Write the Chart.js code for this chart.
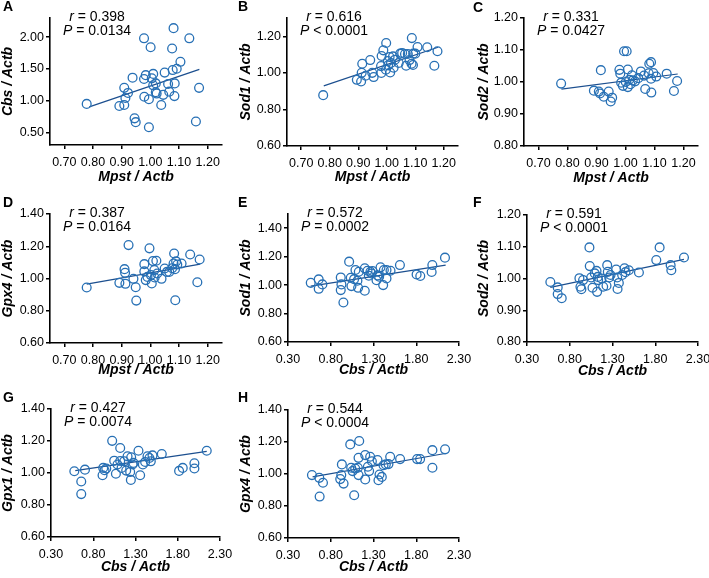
<!DOCTYPE html>
<html>
<head>
<meta charset="utf-8">
<script src="https://cdn.jsdelivr.net/npm/chart.js@4/dist/chart.umd.min.js"></script>
<style>
  html, body { margin: 0; padding: 0; background: #fff; }
  #wrap { position: relative; width: 709px; height: 578px; overflow: hidden; }
  #wrap canvas { position: absolute; }
</style>
</head>
<body>
<div id="wrap"></div>
<script>
// tick labels
var mpstTicks = [0.70, 0.80, 0.90, 1.00, 1.10, 1.20];
var cbsTicks = [0.30, 0.80, 1.30, 1.80, 2.30];
var cbsYTicks = [0.50, 1.00, 1.50, 2.00];
var wideYTicks = [0.60, 0.80, 1.00, 1.20, 1.40];
var sod1YTicks = [0.60, 0.80, 1.00, 1.20];
var sod2YTicks = [0.80, 0.90, 1.00, 1.10, 1.20];

// A: Cbs vs Mpst
var aX = [0.778,0.892,0.909,0.909,0.913,0.922,0.938,0.945,0.949,0.978,0.978,0.984,0.979,0.995,0.995,1.001,1.005,1.010,1.010,1.019,1.019,1.022,1.038,1.045,1.050,1.062,1.066,1.076,1.081,1.078,1.085,1.084,1.092,1.105,1.136,1.159,1.170];
var aY = [0.947,0.915,0.930,1.200,1.040,1.120,1.360,0.720,0.660,1.980,1.340,1.400,1.060,0.580,1.020,1.840,1.350,1.420,1.240,1.270,1.130,1.110,0.930,1.090,1.440,1.260,1.140,1.820,2.140,1.480,1.270,1.070,1.500,1.610,1.980,0.670,1.200];
var aFitX = [0.787, 1.171];
var aFitY = [0.900, 1.490];

// B: Sod1 vs Mpst
var bX = [0.777,0.895,0.910,0.912,0.914,0.926,0.942,0.949,0.954,0.981,0.980,0.982,0.988,0.998,0.997,1.004,1.005,1.010,1.012,1.015,1.022,1.024,1.029,1.042,1.047,1.054,1.064,1.068,1.074,1.080,1.087,1.088,1.092,1.093,1.100,1.108,1.142,1.167,1.178];
var bY = [0.878,0.962,0.953,1.000,1.050,0.984,1.070,1.000,0.977,0.999,1.037,1.092,1.123,1.163,1.017,1.065,1.041,1.087,1.002,1.054,1.090,1.028,1.072,1.054,1.105,1.109,1.103,1.039,1.103,1.070,1.050,1.190,1.043,1.105,1.105,1.141,1.140,1.039,1.118];
var bFitX = [0.779, 1.180];
var bFitY = [0.929, 1.140];

// C: Sod2 vs Mpst
var cX = [0.778,0.891,0.908,0.915,0.912,0.925,0.942,0.949,0.954,0.979,0.982,0.985,0.991,0.995,1.004,1.001,1.008,1.008,1.013,1.017,1.022,1.025,1.033,1.044,1.053,1.064,1.068,1.080,1.082,1.088,1.088,1.089,1.096,1.106,1.142,1.167,1.178];
var cY = [0.995,0.973,0.970,1.037,0.964,0.954,0.970,0.939,0.951,1.038,1.026,0.998,0.988,1.096,1.096,1.000,1.039,0.984,1.007,0.993,1.021,1.005,1.002,1.012,1.033,1.020,0.978,1.027,1.057,1.062,1.010,0.967,1.028,1.017,1.026,0.972,1.003];
var cFitX = [0.779, 1.180];
var cFitY = [0.978, 1.025];

// D: Gpx4 vs Mpst
var dX = [0.778,0.892,0.910,0.912,0.913,0.924,0.941,0.949,0.951,0.979,0.979,0.984,0.990,0.997,1.002,1.005,1.009,1.014,1.015,1.021,1.024,1.039,1.050,1.058,1.066,1.076,1.081,1.083,1.086,1.087,1.090,1.094,1.109,1.139,1.164,1.172];
var dY = [0.944,0.973,1.058,1.035,0.967,1.207,0.998,0.946,0.863,1.089,1.044,0.990,1.010,1.187,1.021,0.969,1.108,1.052,1.006,1.110,1.031,0.998,1.062,1.041,1.041,1.064,1.093,1.155,1.058,0.865,1.106,1.087,1.093,1.149,0.977,1.118];
var dFitX = [0.778, 1.174];
var dFitY = [0.965, 1.089];

// E: Sod1 vs Cbs
var eX = [0.566,0.659,0.659,0.702,0.917,0.917,0.925,0.948,1.015,1.034,1.042,1.073,1.089,1.112,1.120,1.128,1.198,1.198,1.230,1.245,1.264,1.277,1.288,1.335,1.347,1.366,1.382,1.413,1.421,1.452,1.452,1.499,1.609,1.804,1.847,1.980,1.988,2.136];
var eY = [1.016,1.040,0.974,1.005,1.054,0.965,1.005,0.878,1.165,1.052,0.993,1.042,1.106,1.031,0.981,1.094,0.960,1.118,1.101,1.066,1.094,1.082,1.099,1.035,1.068,1.059,1.125,1.000,1.106,1.047,1.106,1.101,1.141,1.075,1.064,1.092,1.141,1.193];
var eFitX = [0.566, 2.144];
var eFitY = [0.993, 1.141];

// F: Sod2 vs Cbs
var fX = [0.573,0.659,0.659,0.706,0.913,0.925,0.936,0.956,1.030,1.034,1.050,1.066,1.093,1.113,1.120,1.128,1.132,1.171,1.191,1.230,1.238,1.245,1.261,1.277,1.343,1.355,1.359,1.374,1.413,1.441,1.452,1.491,1.609,1.812,1.851,1.980,1.988,2.136];
var fY = [0.989,0.972,0.951,0.938,1.001,0.974,0.966,0.995,1.098,1.039,1.003,0.971,1.016,1.024,0.958,1.005,0.995,1.000,0.974,0.977,1.042,1.021,1.003,1.011,1.028,1.003,0.967,0.986,1.011,1.032,1.020,1.026,1.019,1.058,1.098,1.042,1.026,1.066];
var fFitX = [0.573, 2.136];
var fFitY = [0.972, 1.060];

// G: Gpx1 vs Cbs
var gX = [0.576,0.658,0.658,0.702,0.910,0.918,0.934,0.954,1.024,1.048,1.068,1.087,1.119,1.119,1.135,1.166,1.190,1.206,1.237,1.245,1.249,1.265,1.276,1.335,1.355,1.387,1.414,1.442,1.465,1.481,1.501,1.611,1.816,1.859,1.997,1.997,2.143];
var gY = [1.011,0.947,0.868,1.021,0.986,1.032,1.017,1.028,1.201,1.077,0.995,1.053,1.156,1.075,1.032,1.073,1.015,1.104,1.007,0.957,1.098,1.053,1.063,1.139,0.986,1.053,1.069,1.104,1.094,1.073,1.110,1.119,1.013,1.032,1.061,1.028,1.139];
var gFitX = [0.587, 2.143];
var gFitY = [1.015, 1.135];

// H: Gpx4 vs Cbs
var hX = [0.580,0.666,0.670,0.709,0.911,0.923,0.930,0.950,1.028,1.039,1.055,1.074,1.086,1.117,1.125,1.133,1.125,1.203,1.203,1.234,1.249,1.261,1.281,1.347,1.358,1.370,1.397,1.417,1.444,1.475,1.495,1.611,1.810,1.845,1.989,1.989,2.137];
var hY = [0.993,0.976,0.859,0.945,0.968,0.993,1.060,0.940,1.185,1.039,1.018,0.867,1.034,1.039,1.101,1.206,0.993,0.966,1.118,1.045,1.018,1.108,1.080,1.087,0.961,0.997,0.982,1.055,1.060,1.062,1.108,1.093,1.093,1.093,1.149,1.039,1.154];
var hFitX = [0.588, 2.137];
var hFitY = [0.982, 1.128];

var FONT = "'Liberation Sans', Arial, sans-serif";
var DOT = '#2770b5';
var FIT = '#1c4f8f';

function pairs(xs, ys) {
  return xs.map(function (x, i) { return {x: x, y: ys[i]}; });
}

// panel text + axis setup
var panels = [
  {letter: 'A', xs: aX, ys: aY, fx: aFitX, fy: aFitY, xr: [0.65, 1.25], yr: [0.3, 2.3], xt: mpstTicks, yt: cbsYTicks,
   xTitle: 'Mpst / Actb', yTitle: 'Cbs / Actb', r: '0.398', p: '= 0.0134'},
  {letter: 'B', xs: bX, ys: bY, fx: bFitX, fy: bFitY, xr: [0.65, 1.25], yr: [0.6, 1.3], xt: mpstTicks, yt: sod1YTicks,
   xTitle: 'Mpst / Actb', yTitle: 'Sod1 / Actb', r: '0.616', p: '< 0.0001'},
  {letter: 'C', xs: cX, ys: cY, fx: cFitX, fy: cFitY, xr: [0.65, 1.25], yr: [0.8, 1.2], xt: mpstTicks, yt: sod2YTicks,
   xTitle: 'Mpst / Actb', yTitle: 'Sod2 / Actb', r: '0.331', p: '= 0.0427'},
  {letter: 'D', xs: dX, ys: dY, fx: dFitX, fy: dFitY, xr: [0.65, 1.25], yr: [0.6, 1.4], xt: mpstTicks, yt: wideYTicks,
   xTitle: 'Mpst / Actb', yTitle: 'Gpx4 / Actb', r: '0.387', p: '= 0.0164'},
  {letter: 'E', xs: eX, ys: eY, fx: eFitX, fy: eFitY, xr: [0.3, 2.3], yr: [0.6, 1.5], xt: cbsTicks, yt: wideYTicks,
   xTitle: 'Cbs / Actb', yTitle: 'Sod1 / Actb', r: '0.572', p: '= 0.0002'},
  {letter: 'F', xs: fX, ys: fY, fx: fFitX, fy: fFitY, xr: [0.3, 2.3], yr: [0.8, 1.2], xt: cbsTicks, yt: sod2YTicks,
   xTitle: 'Cbs / Actb', yTitle: 'Sod2 / Actb', r: '0.591', p: '< 0.0001'},
  {letter: 'G', xs: gX, ys: gY, fx: gFitX, fy: gFitY, xr: [0.3, 2.3], yr: [0.6, 1.4], xt: cbsTicks, yt: wideYTicks,
   xTitle: 'Cbs / Actb', yTitle: 'Gpx1 / Actb', r: '0.427', p: '= 0.0074'},
  {letter: 'H', xs: hX, ys: hY, fx: hFitX, fy: hFitY, xr: [0.3, 2.3], yr: [0.6, 1.4], xt: cbsTicks, yt: wideYTicks,
   xTitle: 'Cbs / Actb', yTitle: 'Gpx4 / Actb', r: '0.544', p: '< 0.0004'}
];

// where each panel sits: canvas origin, plot box (page px), title spots
var boxes = [
  {ox: 0,   oy: 0,   h: 190, plot: [50, 18, 222, 145],  yTitleX: 8.3,  xTitleY: 177, letterY: 7.5},
  {ox: 235, oy: 0,   h: 190, plot: [287, 18, 458, 146], yTitleX: 10.8, xTitleY: 177, letterY: 7.5},
  {ox: 470, oy: 0,   h: 190, plot: [524, 18, 698, 146], yTitleX: 14.2, xTitleY: 178, letterY: 8},
  {ox: 0,   oy: 190, h: 195, plot: [50, 214, 222, 343], yTitleX: 8.3,  xTitleY: 370, letterY: 13.3},
  {ox: 235, oy: 190, h: 195, plot: [288, 214, 459, 342], yTitleX: 10.8, xTitleY: 370, letterY: 13.3},
  {ox: 470, oy: 190, h: 195, plot: [527, 215, 698, 342], yTitleX: 14,   xTitleY: 371, letterY: 13.5},
  {ox: 0,   oy: 385, h: 193, plot: [51, 409, 220, 537],  yTitleX: 8.3,  xTitleY: 567, letterY: 13},
  {ox: 235, oy: 385, h: 193, plot: [288, 410, 459, 538], yTitleX: 10.8, xTitleY: 567, letterY: 13}
];

function drawStat(ctx, sym, rest, cx, cy) {
  var it = 'italic 14px ' + FONT, rg = '14px ' + FONT;
  ctx.font = it;
  var w1 = ctx.measureText(sym).width;
  ctx.font = rg;
  var w2 = ctx.measureText(' ' + rest).width;
  var x0 = cx - (w1 + w2) / 2;
  ctx.textAlign = 'left';
  ctx.font = it;
  ctx.fillText(sym, x0, cy);
  ctx.font = rg;
  ctx.fillText(' ' + rest, x0 + w1, cy);
}

var statsPlugin = {
  id: 'stats',
  afterDraw: function (chart) {
    var o = chart.options.plugins.stats;
    var ctx = chart.ctx, a = chart.chartArea;
    ctx.save();
    ctx.fillStyle = '#000';
    ctx.textBaseline = 'middle';
    ctx.textAlign = 'left';
    ctx.font = 'bold 14px ' + FONT;
    ctx.fillText(o.letter, 3, o.letterY);
    drawStat(ctx, 'r', '= ' + o.r, a.left + 47, a.top - 0.5);
    drawStat(ctx, 'P', o.p, a.left + 47, a.top + 13.5);
    ctx.restore();
  }
};

var wrap = document.getElementById('wrap');

panels.forEach(function (pn, i) {
  var b = boxes[i];
  var w = 250;
  var canvas = document.createElement('canvas');
  canvas.width = w;
  canvas.height = b.h;
  canvas.style.left = b.ox + 'px';
  canvas.style.top = b.oy + 'px';
  canvas.style.width = w + 'px';
  canvas.style.height = b.h + 'px';
  wrap.appendChild(canvas);

  var yW = b.plot[0] - b.ox;
  var xH = b.oy + b.h - b.plot[3];
  var titleFont = {family: FONT, size: 14, weight: 'bold', style: 'italic'};

  new Chart(canvas.getContext('2d'), {
    type: 'scatter',
    data: {
      datasets: [
        {
          data: pairs(pn.xs, pn.ys),
          borderColor: DOT,
          backgroundColor: 'rgba(0,0,0,0)',
          borderWidth: 1.3,
          pointRadius: 4.4,
          showLine: false
        },
        {
          data: pairs(pn.fx, pn.fy),
          borderColor: FIT,
          borderWidth: 1.2,
          pointRadius: 0,
          showLine: true,
          fill: false
        }
      ]
    },
    options: {
      responsive: false,
      animation: false,
      devicePixelRatio: 1,
      events: [],
      layout: {padding: {left: 0, top: b.plot[1] - b.oy, right: b.ox + w - b.plot[2], bottom: 0}},
      plugins: {
        legend: {display: false},
        tooltip: {enabled: false},
        stats: {letter: pn.letter, letterY: b.letterY, r: pn.r, p: pn.p}
      },
      scales: {
        x: {
          type: 'linear',
          min: pn.xr[0], max: pn.xr[1],
          afterBuildTicks: function (s) { s.ticks = pn.xt.map(function (v) { return {value: v}; }); },
          afterFit: function (s) { s.height = xH; s.paddingLeft = 0; s.paddingRight = 0; },
          ticks: {
            color: '#000', padding: 6, maxRotation: 0, autoSkip: false,
            font: {family: FONT, size: 12.5},
            callback: function (v) { return Number(v).toFixed(2); }
          },
          grid: {display: true, drawOnChartArea: false, drawTicks: true, tickLength: 4, color: '#000', lineWidth: 1.5},
          border: {display: true, color: '#000', width: 1.6},
          title: {display: true, text: pn.xTitle, color: '#000', font: titleFont,
                  padding: {top: 0, bottom: b.oy + b.h - b.xTitleY - 8.4}}
        },
        y: {
          type: 'linear',
          min: pn.yr[0], max: pn.yr[1],
          afterBuildTicks: function (s) { s.ticks = pn.yt.map(function (v) { return {value: v}; }); },
          afterFit: function (s) { s.width = yW; s.paddingTop = 0; s.paddingBottom = 0; },
          ticks: {
            color: '#000', padding: 2,
            font: {family: FONT, size: 12.5},
            callback: function (v) { return Number(v).toFixed(2); }
          },
          grid: {display: true, drawOnChartArea: false, drawTicks: true, tickLength: 4, color: '#000', lineWidth: 1.5},
          border: {display: true, color: '#000', width: 1.6},
          title: {display: true, text: pn.yTitle, color: '#000', font: titleFont,
                  padding: {top: b.yTitleX - 8.4, bottom: 0}}
        }
      }
    },
    plugins: [statsPlugin]
  });
});
</script>
</body>
</html>
